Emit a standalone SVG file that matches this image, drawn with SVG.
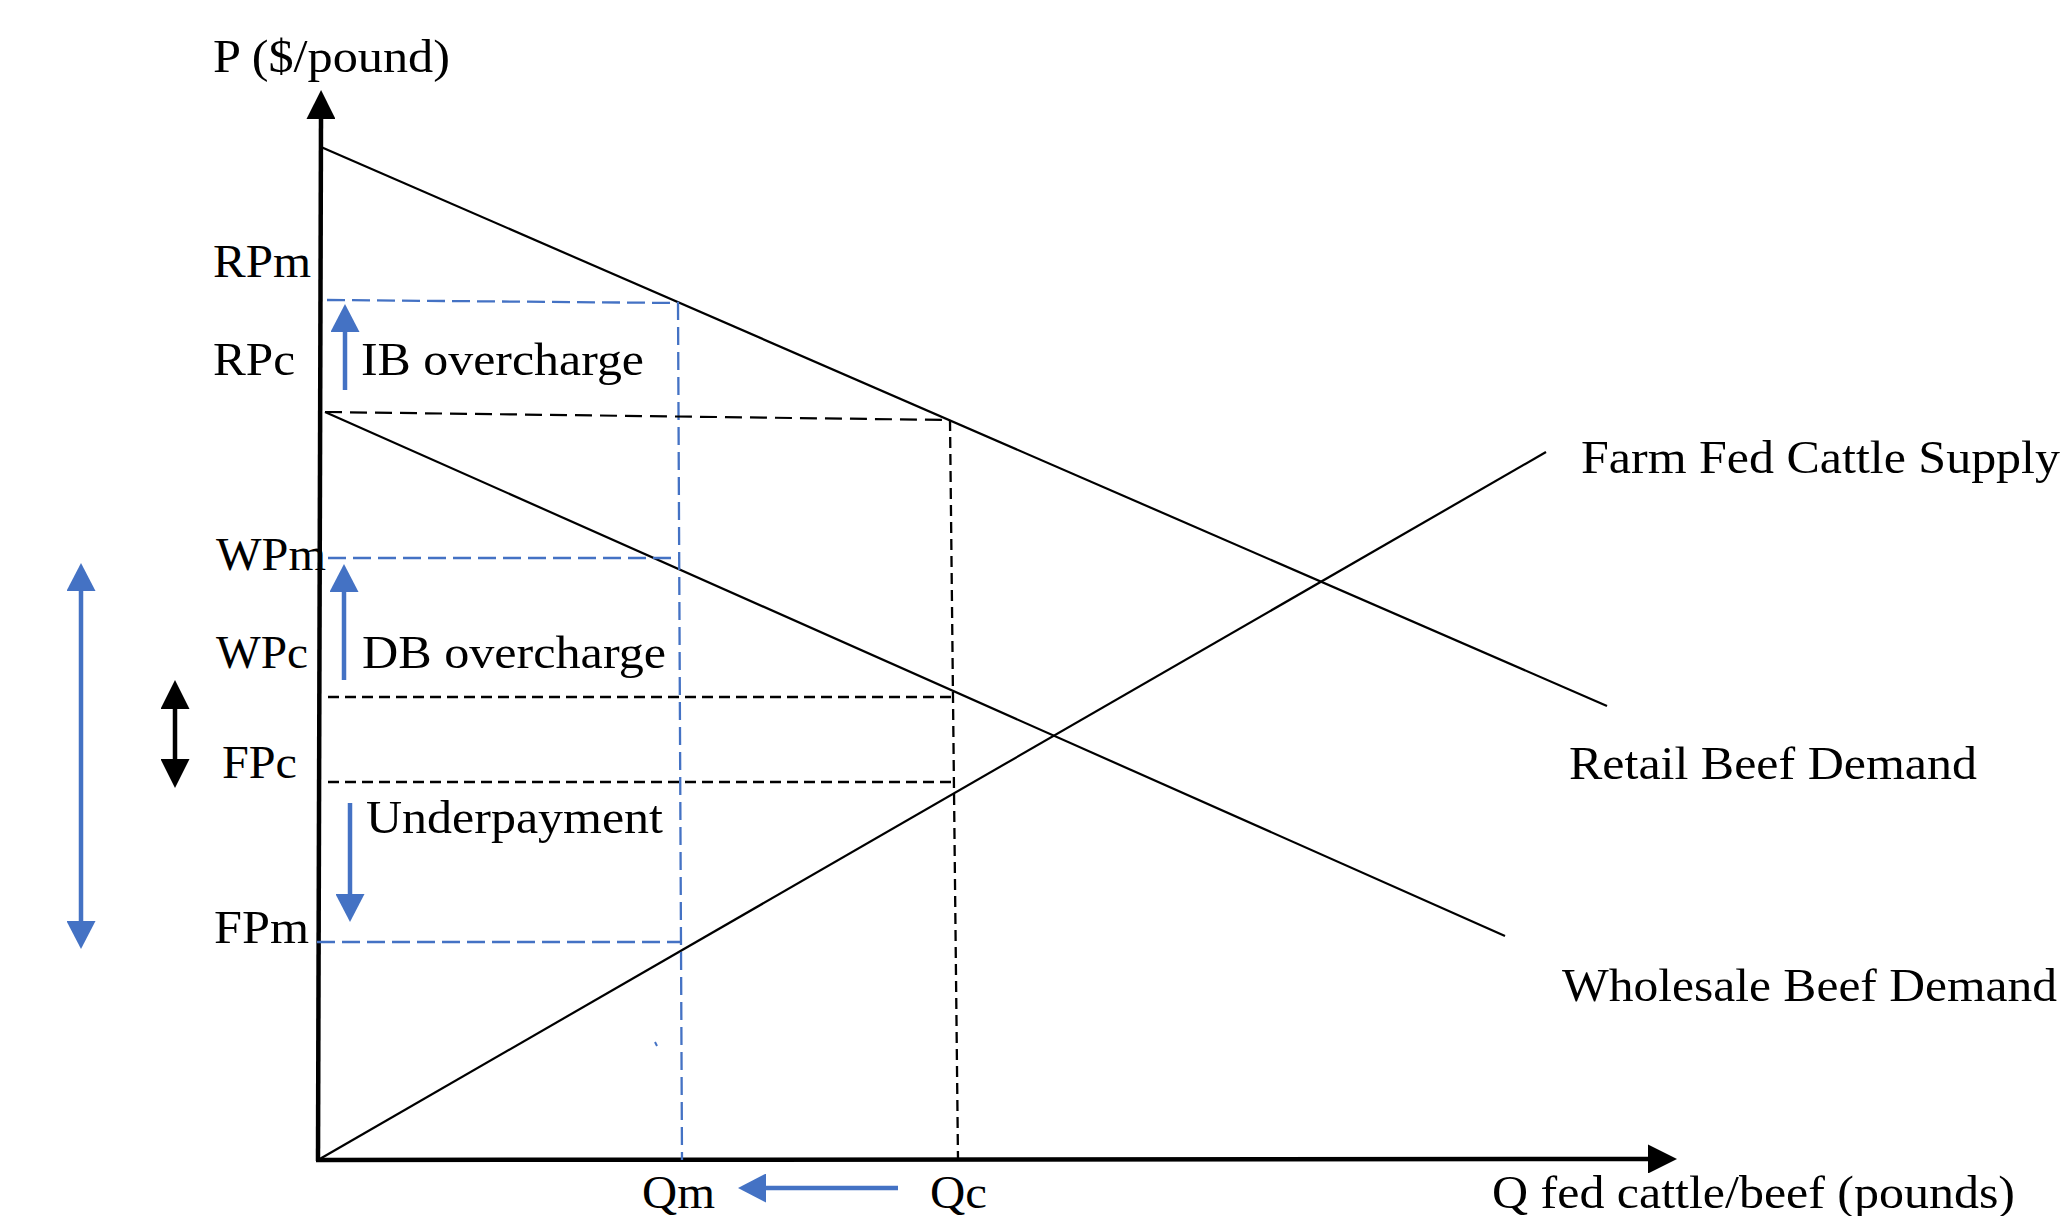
<svg xmlns="http://www.w3.org/2000/svg" width="2065" height="1216" viewBox="0 0 2065 1216">
<style>
text{font-family:"Liberation Serif","Times New Roman",serif;font-size:47px;fill:#000}
.curve{stroke:#000;stroke-width:2.2;fill:none}
.axis{stroke:#000;stroke-width:4.5;fill:none}
.bdash{stroke:#4472C4;stroke-width:2.3;fill:none;stroke-dasharray:18 7}
.kdash{stroke:#000;stroke-width:2.2;fill:none;stroke-dasharray:17 8}
.kdash2{stroke:#000;stroke-width:2.3;fill:none;stroke-dasharray:11 6}
.barrow{stroke:#4472C4;stroke-width:4.5;fill:none}
.karrow{stroke:#000;stroke-width:4.5;fill:none}
</style>
<defs>
<marker id="hk" markerUnits="userSpaceOnUse" viewBox="0 0 29 29" refX="1" refY="14.5" markerWidth="29" markerHeight="29" orient="auto-start-reverse">
<path d="M0,0 L29,14.5 L0,29 z" fill="#000"/>
</marker>
<marker id="hb" markerUnits="userSpaceOnUse" viewBox="0 0 28 29" refX="1" refY="14.5" markerWidth="28" markerHeight="29" orient="auto-start-reverse">
<path d="M0,0 L28,14.5 L0,29 z" fill="#4472C4"/>
</marker>
</defs>

<g id="axes">
<line class="axis" x1="318" y1="1161" x2="321" y2="118" marker-end="url(#hk)"/>
<line class="axis" x1="316" y1="1160" x2="1649" y2="1159" marker-end="url(#hk)"/>
</g>

<g id="curves">
<line id="retail-demand" class="curve" x1="321" y1="147" x2="1607" y2="706"/>
<line id="wholesale-demand" class="curve" x1="325" y1="412" x2="1505" y2="936"/>
<line id="farm-supply" class="curve" x1="318" y1="1160" x2="1546" y2="452"/>
</g>

<g id="guides">
<path class="bdash" d="M327,300 L678,303 L682,1160"/>
<path class="bdash" d="M328,558 L679,558"/>
<path class="bdash" d="M317,942 L681,942"/>
<path class="kdash" d="M325,412 L950,420"/>
<path class="kdash2" d="M950,420 L958,1160"/>
<path class="kdash2" d="M328,697 L953,697"/>
<path class="kdash2" d="M328,782 L953,782"/>
<line x1="655" y1="1042" x2="657" y2="1046" stroke="#4472C4" stroke-width="2"/>
</g>

<g id="connectors">
<line class="barrow" x1="81" y1="590" x2="81" y2="922" marker-start="url(#hb)" marker-end="url(#hb)"/>
<line class="karrow" x1="175" y1="708" x2="175" y2="760" marker-start="url(#hk)" marker-end="url(#hk)"/>
<line class="barrow" x1="345" y1="390" x2="345" y2="331" marker-end="url(#hb)"/>
<line class="barrow" x1="344" y1="680" x2="344" y2="591" marker-end="url(#hb)"/>
<line class="barrow" x1="350" y1="803" x2="350" y2="895" marker-end="url(#hb)"/>
<line class="barrow" x1="898" y1="1188" x2="765" y2="1188" marker-end="url(#hb)"/>
</g>

<g id="labels">
<text x="213" y="72" textLength="237" lengthAdjust="spacingAndGlyphs">P ($/pound)</text>
<text x="213" y="277" textLength="98" lengthAdjust="spacingAndGlyphs">RPm</text>
<text x="213" y="375" textLength="82" lengthAdjust="spacingAndGlyphs">RPc</text>
<text x="361" y="375" textLength="283" lengthAdjust="spacingAndGlyphs">IB overcharge</text>
<text x="216" y="570" textLength="110" lengthAdjust="spacingAndGlyphs">WPm</text>
<text x="216" y="668" textLength="92" lengthAdjust="spacingAndGlyphs">WPc</text>
<text x="362" y="668" textLength="304" lengthAdjust="spacingAndGlyphs">DB overcharge</text>
<text x="222" y="778" textLength="75" lengthAdjust="spacingAndGlyphs">FPc</text>
<text x="366" y="833" textLength="297" lengthAdjust="spacingAndGlyphs">Underpayment</text>
<text x="214" y="943" textLength="95" lengthAdjust="spacingAndGlyphs">FPm</text>
<text x="642" y="1208" textLength="73" lengthAdjust="spacingAndGlyphs">Qm</text>
<text x="930" y="1208" textLength="57" lengthAdjust="spacingAndGlyphs">Qc</text>
<text x="1581" y="473" textLength="479" lengthAdjust="spacingAndGlyphs">Farm Fed Cattle Supply</text>
<text x="1569" y="779" textLength="408" lengthAdjust="spacingAndGlyphs">Retail Beef Demand</text>
<text x="1562" y="1001" textLength="495" lengthAdjust="spacingAndGlyphs">Wholesale Beef Demand</text>
<text x="1492" y="1208" textLength="523" lengthAdjust="spacingAndGlyphs">Q fed cattle/beef (pounds)</text>
</g>
</svg>
